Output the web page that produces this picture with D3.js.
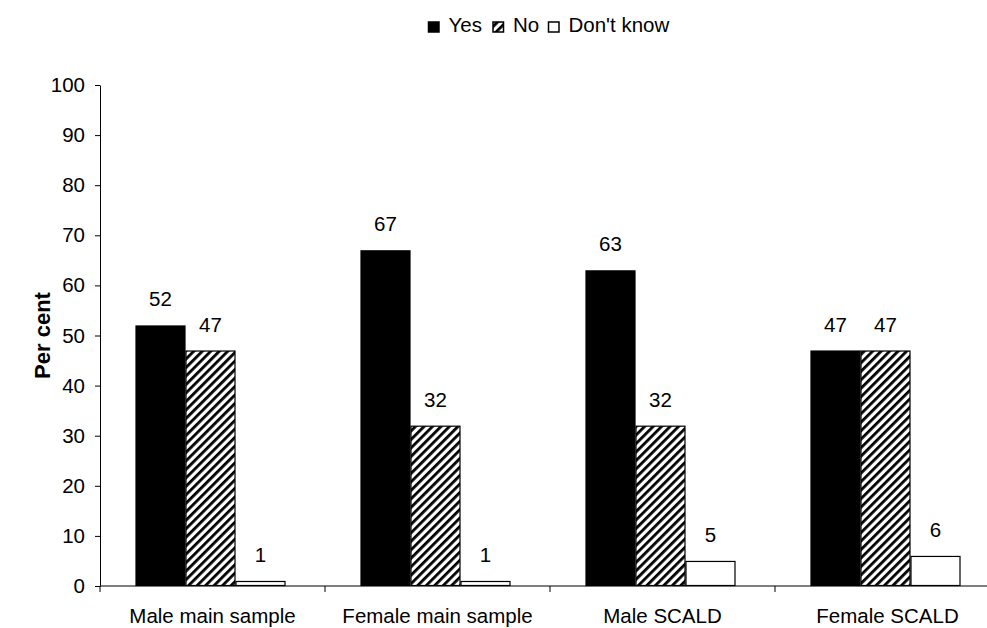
<!DOCTYPE html>
<html><head><meta charset="utf-8">
<script src="https://cdn.jsdelivr.net/npm/d3@7"></script>
<style>body{margin:0;background:#fff}svg{display:block;font-family:"Liberation Sans",Arial,sans-serif}</style>
</head><body>
<script>
const categories = ["Male main sample","Female main sample","Male SCALD","Female SCALD"];
const seriesNames = ["Yes","No","Don't know"];
const yesValues = [52,67,63,47];
const noValues = [47,32,32,47];
const dkValues = [1,1,5,6];
const yTicks = [0,10,20,30,40,50,60,70,80,90,100];

const W=987,H=628;
const FS=20.5;
const svg=d3.select("body").append("svg").attr("width",W).attr("height",H);
const defs=svg.append("defs");
const pat=defs.append("pattern").attr("id","hatch").attr("patternUnits","userSpaceOnUse")
  .attr("width",6).attr("height",6).attr("patternTransform","rotate(45)");
pat.append("rect").attr("width",6).attr("height",6).attr("fill","#fff");
pat.append("rect").attr("x",0).attr("y",0).attr("width",2.8).attr("height",6).attr("fill","#000");

const fills=["#000","url(#hatch)","#fff"];
const mLeft=100, mBottom=586, mTop=85;
const x=d3.scaleBand().domain(categories).range([mLeft,mLeft+4*225]).paddingInner(0).paddingOuter(0);
const y=d3.scaleLinear().domain([0,100]).range([mBottom,mTop]);
const xs=d3.scaleBand().domain(seriesNames).range([0,150]);

const data=categories.map((c,i)=>({cat:c,vals:[yesValues[i],noValues[i],dkValues[i]]}));

// y axis
const ya=svg.append("g").attr("transform",`translate(${mLeft},0)`)
  .call(d3.axisLeft(y).tickValues(yTicks).tickSize(5).tickPadding(10).tickSizeOuter(0));
ya.selectAll("text").attr("font-size",FS).attr("fill","#000").attr("font-family","Liberation Sans, Arial, sans-serif");
ya.selectAll("line,path").attr("stroke","#000");

// x axis
const xa=svg.append("g").attr("transform",`translate(0,${mBottom})`);
xa.append("line").attr("x1",mLeft).attr("x2",W).attr("y1",0).attr("y2",0).attr("stroke","#000");
categories.forEach(c=>{
  xa.append("line").attr("x1",x(c)).attr("x2",x(c)).attr("y1",0).attr("y2",6).attr("stroke","#000");
  xa.append("text").attr("x",x(c)+x.bandwidth()/2).attr("y",37).attr("text-anchor","middle")
    .attr("font-size",FS).text(c);
});

// bars
const g=svg.append("g");
data.forEach(d=>{
  const x0=x(d.cat)+35.5;
  d.vals.forEach((v,j)=>{
    const bx=x0+xs(seriesNames[j]);
    g.append("rect").attr("x",bx+0.5).attr("y",y(v)+0.5).attr("width",xs.bandwidth()-1)
      .attr("height",Math.max(0,mBottom-y(v)-1)).attr("fill",fills[j]).attr("stroke","#000").attr("stroke-width",1.2);
    g.append("text").attr("x",bx+xs.bandwidth()/2).attr("y",y(v)-19).attr("text-anchor","middle")
      .attr("font-size",FS).text(v);
  });
});

// y title
svg.append("text").attr("transform",`translate(50,${(mTop+mBottom)/2}) rotate(-90)`)
  .attr("text-anchor","middle").attr("font-size",22).attr("font-weight","bold").text("Per cent");

// legend
const leg=svg.append("g");
const items=[{x:428,t:"Yes",f:fills[0]},{x:492.5,t:"No",f:fills[1]},{x:548,t:"Don't know",f:fills[2]}];
items.forEach(it=>{
  leg.append("rect").attr("x",it.x+0.5).attr("y",22).attr("width",10.5).attr("height",10)
    .attr("fill",it.f).attr("stroke","#000").attr("stroke-width",1.5);
  leg.append("text").attr("x",it.x+20.5).attr("y",32).attr("font-size",FS).text(it.t);
});
</script>
</body></html>
